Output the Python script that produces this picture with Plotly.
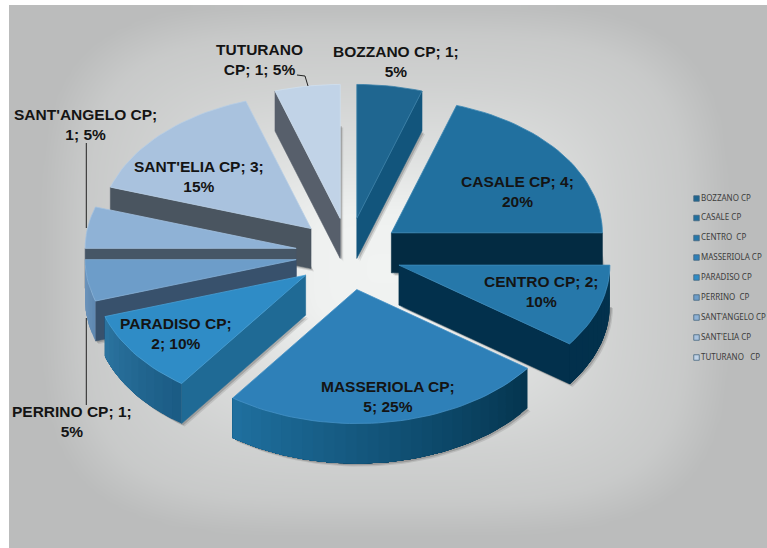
import math
import numpy as np
import plotly.graph_objects as go

# ---- data ----
categories = ["BOZZANO CP", "CASALE CP", "CENTRO CP", "MASSERIOLA CP", "PARADISO CP",
              "PERRINO CP", "SANT'ANGELO CP", "SANT'ELIA CP", "TUTURANO CP"]
values = [1, 4, 2, 5, 2, 1, 1, 3, 1]
legend_labels = ["BOZZANO CP", "CASALE CP", "CENTRO  CP", "MASSERIOLA CP", "PARADISO CP",
                 "PERRINO  CP", "SANT'ANGELO CP", "SANT'ELIA CP", "TUTURANO   CP"]
tokens_on_second_line = [1, 1, 1, 2, 2, 1, 2, 1, 3]

# ---- styles ----
top_colors = ["#1f6690", "#21709f", "#2678aa", "#2e80b8", "#2f8cc6", "#6d9dc9", "#8fb2d6", "#a9c2de", "#c1d3e7"]
edge_colors = ["#3a80a8", "#3a86b4", "#3c8cbc", "#4592c6", "#48a0d6", "#84afd6", "#a2c0df", "#b8cee5", "#cfdfef"]
cut_colors = ["#12557c", "#032b42", "#02304c", "#0c4a6c", "#1f6a95", "#38516c", "#465666", "#4a5560", "#575f6b"]
rim_start = ["#12557c", "#032b42", "#03324d", "#04354f", "#1b5c85", "#6089b2", "#465666", "#4a5560", "#575f6b"]
rim_end = ["#12557c", "#032b42", "#02304c", "#1f6f9e", "#2b739f", "#6f96bd", "#465666", "#4a5560", "#575f6b"]
legend_colors = top_colors

CX, CY = 348.5, 254.0
RX, RY = 211.0, 134.0
DEPTH = 40.0
EXPLODE_X, EXPLODE_Y = 53.0, 36.0
W, H = 767, 548

total = sum(values)
fig = go.Figure()

# background: grey rounded-rectangle glow, brightest behind the pie
gx = np.arange(13, W + 8, 8.0)
gy = np.arange(9, H + 8, 8.0)
u, v = np.meshgrid((gx - 385) / 345, (gy - 268) / 268)
t = np.clip((np.abs(u) ** 4 + np.abs(v) ** 4) ** (1 / 4), 0, 1)
bg_stops = [0.0, 0.2, 0.4, 0.68, 0.87, 1.0]
bg_level = [1.0, 0.97, 0.72, 0.46, 0.33, 0.11]
fig.add_trace(go.Heatmap(x=gx, y=gy, z=np.interp(t, bg_stops, bg_level), zsmooth="best", zmin=0, zmax=1,
                         colorscale=[[0, "#b4b5b5"], [1, "#f1f3f2"]], showscale=False, hoverinfo="skip"))


def poly(xs, ys, fill, line=None, lw=0.6, name=None):
    fig.add_trace(go.Scatter(x=list(xs), y=list(ys), mode="lines", fill="toself", fillcolor=fill,
                             line=dict(color=line or fill, width=lw), hoverinfo="skip",
                             showlegend=False, name=name))


def mix(a, b, f):
    ca = [int(a[i:i + 2], 16) for i in (1, 3, 5)]
    cb = [int(b[i:i + 2], 16) for i in (1, 3, 5)]
    return "#%02x%02x%02x" % tuple(round(p + (q - p) * f) for p, q in zip(ca, cb))


# slice geometry from values
slices = []
cum = 0
for i, val in enumerate(values):
    a0 = cum / total * 360
    cum += val
    a1 = cum / total * 360
    mid = math.radians((a0 + a1) / 2)
    slices.append(dict(i=i, a0=a0, a1=a1,
                       ax=CX + EXPLODE_X * math.sin(mid), ay=CY - EXPLODE_Y * math.cos(mid)))


def pt(s, a):
    r = math.radians(a)
    return s["ax"] + RX * math.sin(r), s["ay"] - RY * math.cos(r)


def arc(s, a0, a1, n):
    return [pt(s, a) for a in np.linspace(a0, a1, n)]


def draw_slice(s):
    i = s["i"]
    a0, a1 = s["a0"], s["a1"]
    ax, ay = s["ax"], s["ay"]
    n = max(3, int((a1 - a0) / 2) + 1)
    rim = arc(s, a0, a1, n)

    # soft shadow under the extruded body
    for off, alpha in ((3.0, 0.12), (1.8, 0.2)):
        xs = [ax + off] + [p[0] + off for p in rim] + [ax + off]
        ys = [ay + DEPTH + off] + [p[1] + DEPTH + off for p in rim] + [ay + DEPTH + off]
        poly(xs, ys, f"rgba(30,30,30,{alpha})", line="rgba(0,0,0,0)", lw=0)

    # cut faces
    faces = []
    if math.sin(math.radians(a0)) < -1e-9:
        faces.append(a0)
    if math.sin(math.radians(a1)) > 1e-9:
        faces.append(a1)
    for a in faces:
        px, py = pt(s, a)
        poly([ax, px, px, ax, ax], [ay, py, py + DEPTH, ay + DEPTH, ay], cut_colors[i])

    # outer rim, visible on the front half only; later strips overlap earlier ones
    lo, hi = max(a0, 90), min(a1, 270)
    if hi > lo:
        steps = max(2, int((hi - lo) / 3))
        edges = np.linspace(lo, hi, steps + 1)
        for k in range(steps):
            p = arc(s, edges[k], hi, max(3, (steps - k) * 2 + 1))
            col = mix(rim_start[i], rim_end[i], k / max(1, steps - 1))
            xs = [q[0] for q in p] + [q[0] for q in reversed(p)]
            ys = [q[1] for q in p] + [q[1] + DEPTH for q in reversed(p)]
            poly(xs, ys, col, line="rgba(0,0,0,0)", lw=0)

    # top face
    xs = [ax] + [p[0] for p in rim] + [ax]
    ys = [ay] + [p[1] for p in rim] + [ay]
    poly(xs, ys, top_colors[i], line=edge_colors[i], lw=0.8, name=categories[i])


for idx in (8, 0, 7, 1, 6, 5, 2, 4, 3):
    draw_slice(slices[idx])

# leader lines
leader_x = [[297, 305, 308], [86.3, 86.3], [86.3, 86.3]]
leader_y = [[75, 76, 86], [143, 228], [318, 405]]
for lx, ly in zip(leader_x, leader_y):
    fig.add_trace(go.Scatter(x=lx, y=ly, mode="lines", line=dict(color="#222222", width=1),
                             hoverinfo="skip", showlegend=False))

# data labels
label_pos = [(396, 61), (517, 191), (541, 291), (388, 396), (176, 333),
             (72, 421), (85, 124), (199, 176), (259, 59)]
for name, val, keep, (lx, ly) in zip(categories, values, tokens_on_second_line, label_pos):
    words = f"{name}; {val}; {round(val / total * 100)}%".split(" ")
    text = " ".join(words[:-keep]) + "<br>" + " ".join(words[-keep:])
    fig.add_annotation(x=lx, y=ly, text=text, showarrow=False, align="center",
                       font=dict(family="Liberation Sans", size=15.5, color="#141414", weight="bold"))

# legend column
legend_y = [198.5, 218, 238, 257.5, 277.5, 297.5, 317.5, 337.5, 357.5]
fig.add_trace(go.Scatter(x=[696.5] * len(categories), y=legend_y, mode="markers+text",
                         text=legend_labels, textposition="middle right",
                         textfont=dict(family="Noto Sans", size=8, color="#3c3c3c"),
                         marker=dict(symbol="square", size=5.5, color=legend_colors,
                                     line=dict(color="#45667f", width=0.8)),
                         cliponaxis=False, hoverinfo="skip", showlegend=False))

fig.update_layout(width=W, height=H, margin=dict(l=0, r=0, t=0, b=0, autoexpand=False),
                  paper_bgcolor="white", plot_bgcolor="white", showlegend=False,
                  xaxis=dict(range=[0, W], visible=False, fixedrange=True),
                  yaxis=dict(range=[H, 0], visible=False, fixedrange=True))
fig.write_html("out.html", config={"displayModeBar": False},
               post_script="document.body.style.margin='0';document.body.style.overflow='hidden';")
